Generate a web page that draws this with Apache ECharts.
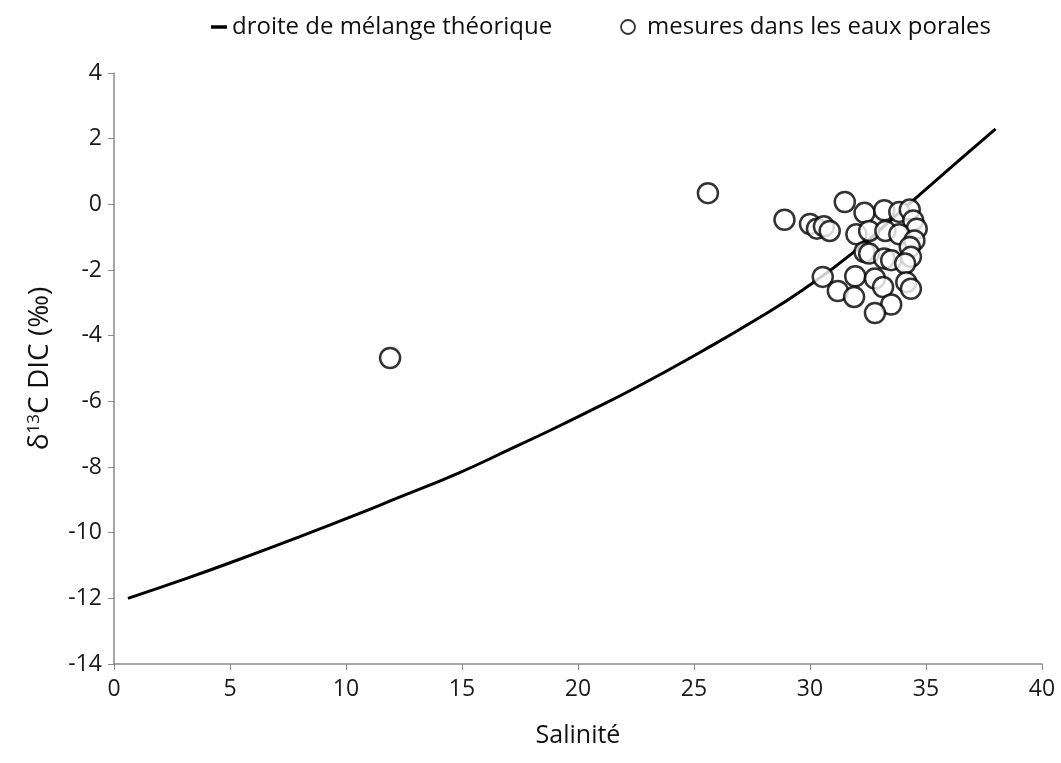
<!DOCTYPE html>
<html>
<head>
<meta charset="utf-8">
<script src="https://cdn.jsdelivr.net/npm/echarts@6/dist/echarts.min.js"></script>
<style>html,body{margin:0;padding:0;background:#fff;}#c{width:1061px;height:763px;}</style>
</head>
<body>
<div id="c"></div>
<script>
// Theoretical mixing curve (salinity, δ13C DIC)
var curveX = [0.6, 3.1, 5.3, 7.9, 10.2, 12.2, 14.8, 17.1, 18.9, 20.4, 22.5, 25.4, 27.7, 29.7, 31.9, 34.3, 36.2, 38.0];
var curveY = [-12.0, -11.4, -10.84, -10.15, -9.52, -8.95, -8.2, -7.45, -6.85, -6.33, -5.58, -4.45, -3.5, -2.6, -1.45, 0.03, 1.2, 2.3];

// Pore-water measurements
var measX = [11.9, 25.6, 28.9, 31.5, 30.0, 30.3, 30.6, 30.85, 32.35, 33.2, 33.85, 34.3, 34.45, 34.6,
             32.0, 32.55, 33.25, 33.85, 34.5, 34.3, 32.35, 32.55, 33.2, 33.5, 34.35, 34.1,
             30.55, 31.95, 32.8, 33.15, 34.15, 34.35, 31.2, 31.9, 33.5, 32.8];
var measY = [-4.68, 0.34, -0.47, 0.07, -0.6, -0.74, -0.67, -0.81, -0.26, -0.18, -0.23, -0.16, -0.49, -0.74,
             -0.91, -0.81, -0.81, -0.91, -1.1, -1.3, -1.45, -1.5, -1.65, -1.7, -1.6, -1.8,
             -2.21, -2.19, -2.26, -2.52, -2.37, -2.57, -2.64, -2.82, -3.05, -3.31];

var xTicks = [0, 5, 10, 15, 20, 25, 30, 35, 40];
var yTicks = [-14, -12, -10, -8, -6, -4, -2, 0, 2, 4];

var curveData = curveX.map(function (x, i) { return [x, curveY[i]]; });
var measData = measX.map(function (x, i) { return [x, measY[i]]; });

var font = '"Open Sans", "Noto Sans", sans-serif';
var chart = echarts.init(document.getElementById('c'), null, {renderer: 'canvas'});
chart.setOption({
  backgroundColor: '#ffffff',
  animation: false,
  textStyle: {fontFamily: font},
  legend: {
    top: 10,
    left: 206,
    itemGap: 68,
    itemWidth: 16,
    itemHeight: 14,
    textStyle: {fontFamily: font, fontSize: 24, color: '#111'},
    data: [
      {name: 'droite de mélange théorique', icon: 'path://M0,0 L16,0 L16,3.5 L0,3.5 Z', itemStyle: {color: '#000'}},
      {name: 'mesures dans les eaux porales', icon: 'circle', itemStyle: {color: '#fff', borderColor: '#000', borderWidth: 1.8},
       textStyle: {padding: [0, 0, 0, 6]}}
    ]
  },
  grid: {left: 114, right: 19, top: 73, bottom: 99, containLabel: false},
  xAxis: {
    type: 'value', min: xTicks[0], max: xTicks[xTicks.length - 1], interval: 5,
    name: 'Salinité', nameLocation: 'middle', nameGap: 59,
    nameTextStyle: {fontFamily: font, fontSize: 25, color: '#111'},
    axisLine: {show: true, onZero: false, lineStyle: {color: '#8a8a8a', width: 1.5}},
    axisTick: {show: true, length: 6, lineStyle: {color: '#8a8a8a'}},
    axisLabel: {fontFamily: font, fontSize: 23, color: '#1a1a1a', margin: 14},
    splitLine: {show: false}
  },
  yAxis: {
    type: 'value', min: yTicks[0], max: yTicks[yTicks.length - 1], interval: 2,
    name: '{a|δ}{s|13}{a|C DIC (‰)}', nameLocation: 'middle', nameGap: 60, nameRotate: 90,
    nameTextStyle: {
      fontFamily: font, fontSize: 28, color: '#111',
      rich: {
        a: {fontFamily: font, fontSize: 28, color: '#111'},
        s: {fontFamily: font, fontSize: 17, color: '#111', verticalAlign: 'top', padding: [0, 0, 11, 0]}
      }
    },
    axisLine: {show: true, onZero: false, lineStyle: {color: '#8a8a8a', width: 1.5}},
    axisTick: {show: true, length: 6, lineStyle: {color: '#8a8a8a'}},
    axisLabel: {fontFamily: font, fontSize: 23, color: '#1a1a1a', margin: 12},
    splitLine: {show: false}
  },
  series: [
    {
      name: 'droite de mélange théorique',
      type: 'line',
      data: curveData,
      smooth: true,
      showSymbol: false,
      lineStyle: {color: '#000', width: 3},
      itemStyle: {color: '#000'},
      z: 2
    },
    {
      name: 'mesures dans les eaux porales',
      type: 'scatter',
      data: measData,
      symbol: 'circle',
      symbolSize: 20,
      itemStyle: {color: '#fff', borderColor: '#000', borderWidth: 2.5},
      z: 3
    }
  ]
});
</script>
</body>
</html>
